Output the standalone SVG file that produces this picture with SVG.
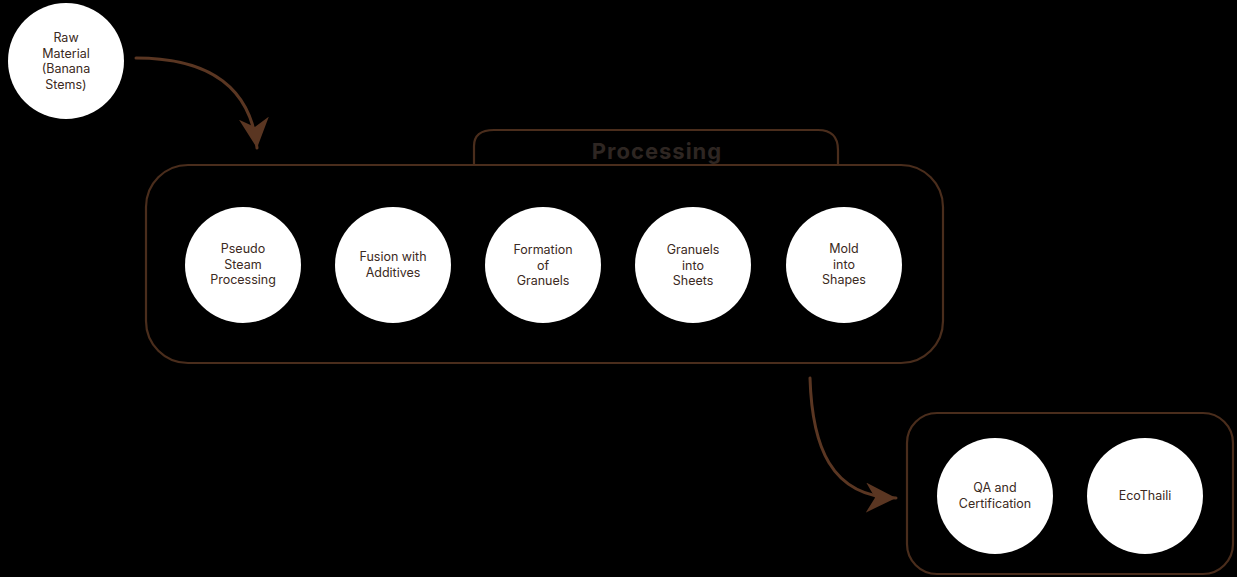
<svg xmlns="http://www.w3.org/2000/svg" width="1237" height="577" viewBox="0 0 1237 577">
<style>
.node circle{fill:#ffffff;stroke:none}
.node text{font-family:Inter,"Liberation Sans",sans-serif;font-size:12.5px;fill:#3b2a22;text-anchor:middle}
.frame{fill:none;stroke:#4a2d1c;stroke-width:2.2}
.conn{fill:none;stroke:#5a3622;stroke-width:3;stroke-linecap:round}
.title{font-family:Inter,"Liberation Sans",sans-serif;font-size:22px;font-weight:bold;fill:#2e2622;text-anchor:middle;letter-spacing:1px}
</style>
<defs>
<marker id="ah" viewBox="0 0 10 10" refX="10" refY="5" markerWidth="10" markerHeight="10" orient="auto" markerUnits="strokeWidth">
<path d="M0,0 L10,5 L0,10 L3,5 Z" fill="#5a3622"/>
</marker>
</defs>
<rect width="1237" height="577" fill="#000000"/>
<g id="processing-group">
<path class="frame" d="M474,164 L474,146 Q474,130 494,130 L818,130 Q838,130 838,150 L838,164"/>
<rect class="frame" x="146" y="165" width="797" height="198" rx="42" ry="42"/>
<text class="title" x="657" y="159">Processing</text>
</g>
<g id="output-group">
<rect class="frame" x="907" y="413" width="326" height="161" rx="30" ry="30"/>
</g>
<g id="connectors">
<path class="conn" d="M136,58 C200,58 250,80 257,148" marker-end="url(#ah)"/>
<path class="conn" d="M810,378 C812,445 830,497 896,498" marker-end="url(#ah)"/>
</g>
<g id="raw" class="node"><circle cx="66" cy="61" r="58"/><text x="66" y="42">Raw</text><text x="66" y="57.5">Material</text><text x="66" y="73">(Banana</text><text x="66" y="88.5">Stems)</text></g>
<g id="pseudo" class="node"><circle cx="243" cy="265" r="58"/><text x="243" y="253">Pseudo</text><text x="243" y="268.5">Steam</text><text x="243" y="284">Processing</text></g>
<g id="fusion" class="node"><circle cx="393" cy="265" r="58"/><text x="393" y="261">Fusion with</text><text x="393" y="276.5">Additives</text></g>
<g id="formation" class="node"><circle cx="543" cy="265" r="58"/><text x="543" y="254">Formation</text><text x="543" y="269.5">of</text><text x="543" y="285">Granuels</text></g>
<g id="sheets" class="node"><circle cx="693" cy="265" r="58"/><text x="693" y="254">Granuels</text><text x="693" y="269.5">into</text><text x="693" y="285">Sheets</text></g>
<g id="mold" class="node"><circle cx="844" cy="265" r="58"/><text x="844" y="253">Mold</text><text x="844" y="268.5">into</text><text x="844" y="284">Shapes</text></g>
<g id="qa" class="node"><circle cx="995" cy="496" r="58"/><text x="995" y="492">QA and</text><text x="995" y="507.5">Certification</text></g>
<g id="ecothaili" class="node"><circle cx="1145" cy="496" r="58"/><text x="1145" y="500">EcoThaili</text></g>
</svg>
